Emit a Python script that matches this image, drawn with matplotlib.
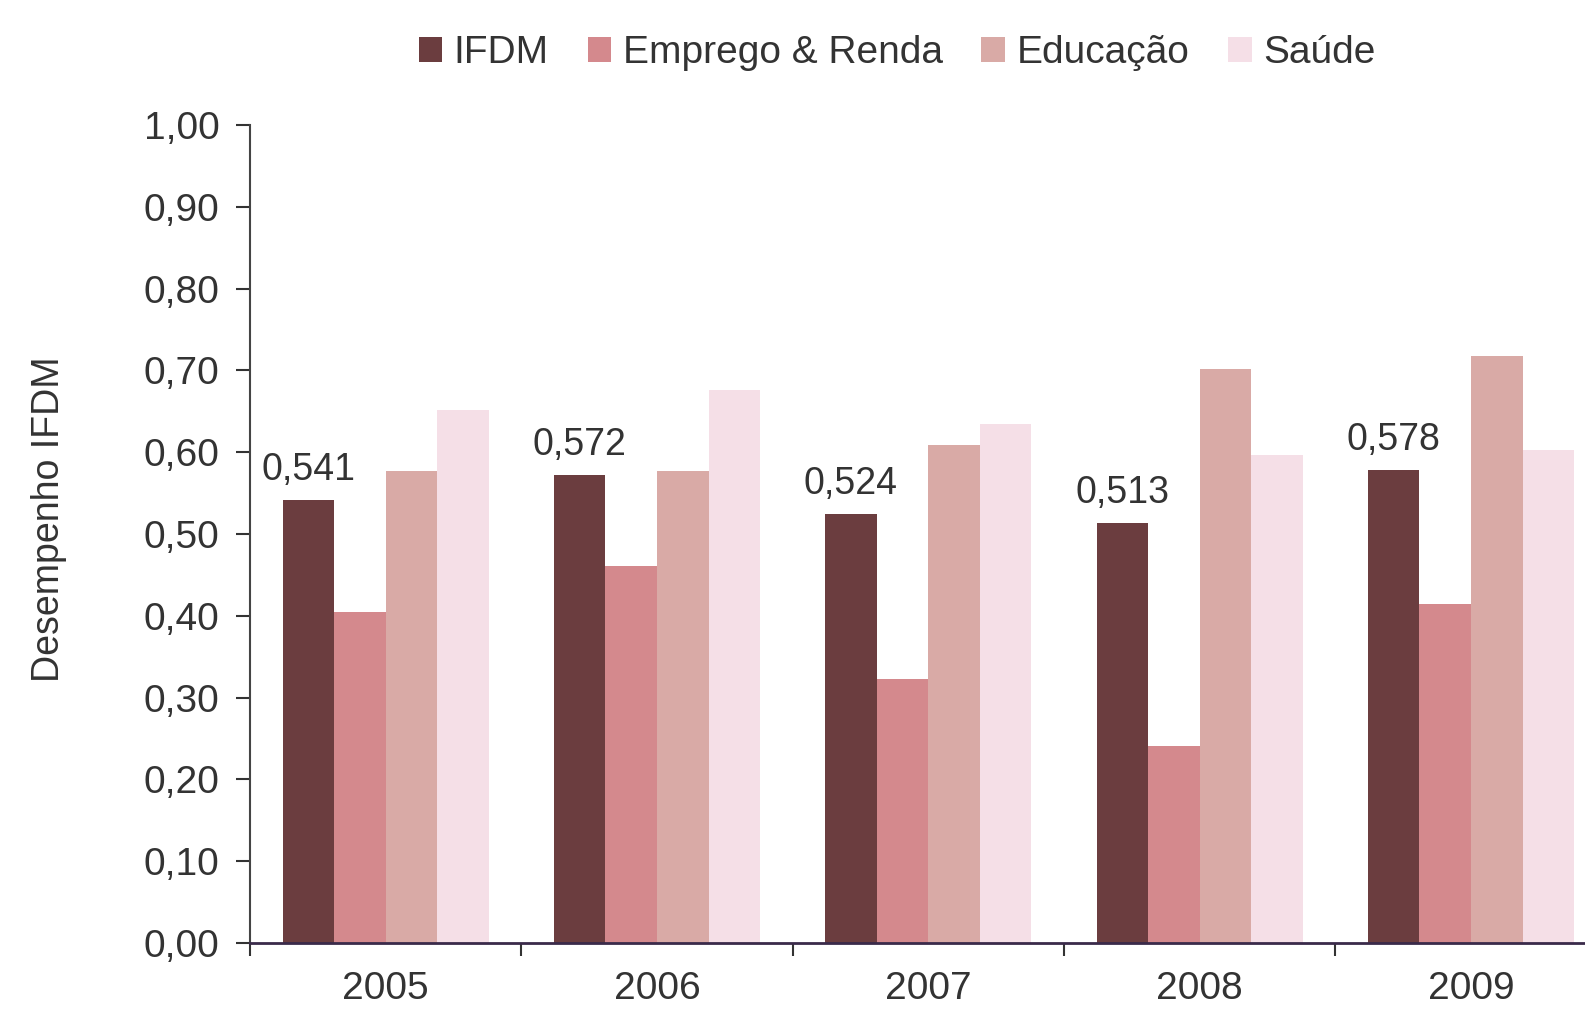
import numpy as np
import matplotlib
matplotlib.use("Agg")
import matplotlib.pyplot as plt

plt.rcParams['font.family'] = ['Liberation Sans', 'DejaVu Sans']

anos = ["2005", "2006", "2007", "2008", "2009"]
series = ["IFDM", "Emprego & Renda", "Educação", "Saúde"]
ifdm = [0.541, 0.572, 0.524, 0.513, 0.578]
emprego = [0.405, 0.461, 0.323, 0.241, 0.414]
educacao = [0.577, 0.577, 0.609, 0.702, 0.718]
saude = [0.651, 0.676, 0.634, 0.597, 0.603]
rotulos = ["0,541", "0,572", "0,524", "0,513", "0,578"]

cores = ["#6b3d3f", "#d4898d", "#d9aaa6", "#f5dfe7"]

fig = plt.figure(figsize=(15.85, 10.10), dpi=100)
ax = fig.add_axes([0.1577, 0.0663, 0.8423, 0.81])

x = np.arange(len(anos))
w = 0.19
dados = [ifdm, emprego, educacao, saude]
for i in range(4):
    ax.bar(x + (i - 1.5) * w, dados[i], width=w, color=cores[i], label=series[i])

for i in range(len(anos)):
    ax.text(x[i] - 1.5 * w, ifdm[i] + 0.015, rotulos[i], ha='center', va='bottom',
            fontsize=27, color='#333333')

ax.set_ylim(0, 1.0)
ax.set_xlim(-0.5, 4.42)
ticks_y = np.arange(0, 1.01, 0.1)
ax.set_yticks(ticks_y)
ax.set_yticklabels([("%.2f" % v).replace('.', ',') for v in ticks_y])
ax.tick_params(axis='y', labelsize=28, colors='#333333', length=10, width=1.5, pad=12)

ax.set_xticks(x)
ax.set_xticklabels(anos, fontsize=28, color='#333333')
ax.tick_params(axis='x', length=0, pad=20)
ax.set_xticks(np.arange(-0.5, 4.0, 1.0), minor=True)
ax.tick_params(axis='x', which='minor', length=9, width=1.5, color='#333333')

ax.spines['top'].set_visible(False)
ax.spines['right'].set_visible(False)
ax.spines['left'].set_color('#444444')
ax.spines['left'].set_linewidth(1.5)
ax.spines['bottom'].set_color('#3a2a4a')
ax.spines['bottom'].set_linewidth(2)

ax.set_ylabel('Desempenho IFDM', fontsize=27, color='#333333')
ax.yaxis.set_label_coords(-0.137, 0.518)

fig.legend(loc='upper center', bbox_to_anchor=(0.566, 1.0), ncol=4, frameon=False,
           fontsize=28, handlelength=0.6, handleheight=0.6, handletextpad=0.3,
           columnspacing=1.0, labelcolor='#333333')

fig.savefig("out.png", dpi=100)
